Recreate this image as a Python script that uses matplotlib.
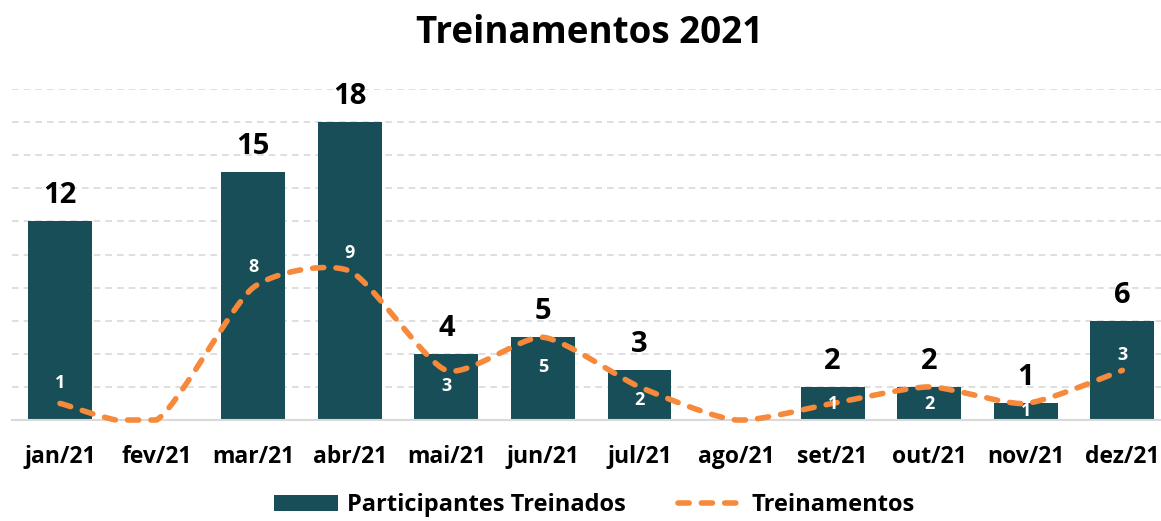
import numpy as np
import matplotlib
matplotlib.use('Agg')
import matplotlib.pyplot as plt

plt.rcParams['font.family'] = ['Open Sans', 'DejaVu Sans']

months = ['jan/21', 'fev/21', 'mar/21', 'abr/21', 'mai/21', 'jun/21',
          'jul/21', 'ago/21', 'set/21', 'out/21', 'nov/21', 'dez/21']
participantes = [12, 0, 15, 18, 4, 5, 3, 0, 2, 2, 1, 6]
treinamentos = [1, 0, 8, 9, 3, 5, 2, 0, 1, 2, 1, 3]

bar_color = '#174E58'
line_color = '#F7893B'

# pixel offsets of the white line labels (as in the original)
lbl_off = [20, 0, 21, 18, -16, -30, -13, 0, -1, -17, -8, 15]


def smooth(xs, ys, n=30, k=0.11):
    # excel-like smoothed line (bezier through the points)
    P = np.column_stack([xs, ys]).astype(float)
    out = []
    for i in range(len(P) - 1):
        p0 = P[i - 1] if i > 0 else P[i]
        p1 = P[i]
        p2 = P[i + 1]
        p3 = P[i + 2] if i + 2 < len(P) else P[i + 1]
        c1 = p1 + (p2 - p0) * k
        c2 = p2 - (p3 - p1) * k
        t = np.linspace(0, 1, n)[:, None]
        seg = ((1 - t) ** 3) * p1 + 3 * ((1 - t) ** 2) * t * c1 + 3 * (1 - t) * t ** 2 * c2 + t ** 3 * p2
        out.append(seg if i == 0 else seg[1:])
    seg = np.vstack(out)
    return seg[:, 0], np.clip(seg[:, 1], 0, None)


fig = plt.figure(figsize=(11.61, 5.21), dpi=100)
ax = fig.add_axes([12 / 1161, 101 / 521, 1149 / 1161, 331 / 521])

x = np.arange(len(months))
bars = ax.bar(x, participantes, width=0.66, color=bar_color, zorder=2,
              label='Participantes Treinados')

sx, sy = smooth(x, treinamentos)
line, = ax.plot(sx, sy, color=line_color, lw=4, dashes=(2.0, 2.2),
                dash_capstyle='round', zorder=3, clip_on=False, label='Treinamentos')

for xi, v in zip(x, participantes):
    if v:
        ax.annotate(str(v), (xi, v), xytext=(0, 11), textcoords='offset pixels',
                    ha='center', va='bottom', fontsize=21, fontweight='bold',
                    color='black')

for xi, v, off in zip(x, treinamentos, lbl_off):
    if v:
        ax.annotate(str(v), (xi, v), xytext=(0, off), textcoords='offset pixels',
                    ha='center', va='center', fontsize=13, fontweight='bold',
                    color='white', zorder=4)

ax.set_xlim(-0.497, 11.40)
ax.set_ylim(0, 20)
ax.set_yticks(np.arange(0, 21, 2))
ax.yaxis.grid(True, color='#D9D9D9', linestyle=(0, (4, 3)), lw=1.2, zorder=0)
ax.tick_params(axis='y', left=False, labelleft=False)
ax.tick_params(axis='x', length=0, pad=18)
ax.set_xticks(x)
ax.set_xticklabels(months, fontsize=16.5, fontweight='bold')
for s in ['top', 'right', 'left']:
    ax.spines[s].set_visible(False)
ax.spines['bottom'].set_color('#D9D9D9')
ax.spines['bottom'].set_linewidth(1.5)

fig.text(0.508, 0.937, 'Treinamentos 2021', ha='center', va='center',
         fontsize=26.5, fontweight='bold')

fig.legend(handles=[bars, line], loc='center', bbox_to_anchor=(0.512, 0.03),
           ncol=2, frameon=False, prop={'weight': 'bold', 'size': 17},
           handlelength=2.7, columnspacing=2.2, handletextpad=0.4)

fig.savefig('out.png', dpi=100)
